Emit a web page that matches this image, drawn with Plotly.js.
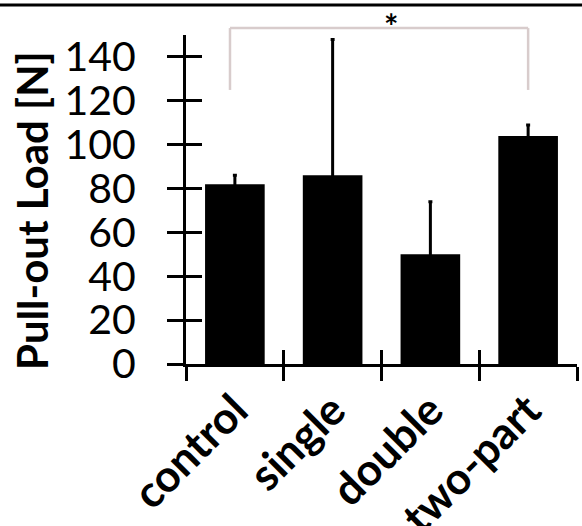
<!DOCTYPE html>
<html>
<head>
<meta charset="utf-8">
<script src="https://cdn.plot.ly/plotly-3.0.1.min.js"></script>
<style>html,body{margin:0;padding:0;background:#fff;}#chart{width:582px;height:526px;}</style>
</head>
<body>
<div id="chart"></div>
<script>
const categories = ["control", "single", "double", "two-part"];
const loads = [82, 86, 50, 104];
const errors = [4, 62, 24, 5];
const yTickVals = [0, 20, 40, 60, 80, 100, 120, 140];
const yTitle = "Pull-out Load [N]";
const significanceLabel = "*";

const barTrace = {
  type: "bar",
  x: categories,
  y: loads,
  width: 0.61,
  marker: {color: "#000000", line: {width: 0}},
  error_y: {type: "data", array: errors, visible: true, color: "#000000", thickness: 3, width: 2},
  hoverinfo: "skip",
  showlegend: false
};
const helperTrace = {
  type: "scatter",
  mode: "markers",
  x: categories,
  y: loads,
  xaxis: "x2",
  yaxis: "y2",
  marker: {opacity: 0},
  hoverinfo: "skip",
  showlegend: false
};

const font = "Lato, 'Open Sans', sans-serif";
const layout = {
  width: 582,
  height: 526,
  margin: {l: 186, r: 5, t: 35, b: 162},
  paper_bgcolor: "#ffffff",
  plot_bgcolor: "#ffffff",
  font: {family: font, color: "#000000"},
  xaxis: {
    type: "category",
    range: [-0.5, 3.5],
    tickson: "boundaries",
    ticks: "outside",
    ticklen: 14,
    tickwidth: 3,
    tickcolor: "#000000",
    showline: true,
    linewidth: 3,
    linecolor: "#000000",
    showgrid: false,
    zeroline: false,
    tickangle: -45,
    tickfont: {family: font, size: 44, color: "#000000", weight: 700}
  },
  xaxis2: {
    type: "category",
    overlaying: "x",
    range: [-0.5, 3.5],
    tickson: "boundaries",
    ticks: "inside",
    ticklen: 14,
    tickwidth: 3,
    tickcolor: "#000000",
    showline: false,
    showgrid: false,
    zeroline: false,
    showticklabels: false,
    side: "bottom",
    anchor: "y"
  },
  yaxis: {
    range: [0, 150],
    tickmode: "array",
    tickvals: yTickVals,
    ticks: "outside",
    ticklen: 16,
    tickwidth: 3,
    tickcolor: "#000000",
    ticklabelstandoff: 23,
    showline: true,
    linewidth: 3,
    linecolor: "#000000",
    showgrid: false,
    zeroline: false,
    tickfont: {family: font, size: 41, color: "#000000"}
  },
  yaxis2: {
    range: [0, 150],
    overlaying: "y",
    anchor: "x",
    tickmode: "array",
    tickvals: yTickVals,
    ticks: "inside",
    ticklen: 16,
    tickwidth: 3,
    tickcolor: "#000000",
    showline: false,
    showgrid: false,
    zeroline: false,
    showticklabels: false
  },
  shapes: [
    {type: "line", xref: "paper", yref: "paper", x0: -0.476, x1: 1.013, y0: 1.091, y1: 1.091, line: {color: "#000000", width: 3}},
    {type: "line", xref: "x", yref: "paper", x0: -0.05, x1: 3.0, y0: 1.021, y1: 1.021, line: {color: "#d8cccc", width: 2.5}},
    {type: "line", xref: "x", yref: "paper", x0: -0.05, x1: -0.05, y0: 1.021, y1: 0.833, line: {color: "#d8cccc", width: 2.5}},
    {type: "line", xref: "x", yref: "paper", x0: 3.0, x1: 3.0, y0: 1.021, y1: 0.833, line: {color: "#d8cccc", width: 2.5}}
  ],
  annotations: [
    {text: significanceLabel, xref: "x", yref: "paper", x: 1.6, y: 1.03, yanchor: "middle", showarrow: false, font: {family: font, size: 34, color: "#000000", weight: 700}},
    {text: yTitle, xref: "paper", yref: "paper", x: -0.394, y: 0.468, xanchor: "center", yanchor: "middle", textangle: -90, showarrow: false, font: {family: font, size: 42, color: "#000000", weight: 700}}
  ]
};

Plotly.newPlot("chart", [barTrace, helperTrace], layout, {displayModeBar: false, staticPlot: true});
</script>
</body>
</html>
